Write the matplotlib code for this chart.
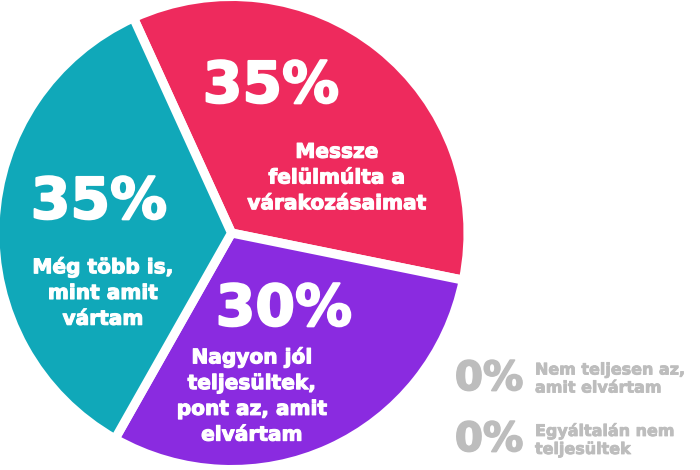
import matplotlib
matplotlib.use("Agg")
import matplotlib.pyplot as plt
import matplotlib.patheffects as pe

# data
slice_labels = ["Messze\nfelülmúlta a\nvárakozásaimat",
                "Nagyon jól\nteljesültek,\npont az, amit\nelvártam",
                "Még több is,\nmint amit\nvártam"]
slice_values = [35, 30, 35]
slice_colors = ["#EE2A5D", "#8A2BE0", "#10A8B9"]

zero_labels = ["Nem teljesen az,\namit elvártam", "Egyáltalán nem\nteljesültek"]
zero_values = [0, 0]

plt.rcParams["font.family"] = ["DejaVu Sans"]

fig = plt.figure(figsize=(7, 4.7), dpi=100)
W, H = 700, 470

# pie axes in pixel units (center ~ (231.5, 233), radius ~236 px incl. white edge)
R = 236.5
cx, cy = 231.5, 233
ax = fig.add_axes([(cx - R) / W, (H - cy - R) / H, 2 * R / W, 2 * R / H])
ax.pie(slice_values, colors=slice_colors, startangle=114.5, counterclock=False,
       radius=1.0, wedgeprops=dict(edgecolor="white", linewidth=6.5))
ax.set_xlim(-1.0, 1.0)
ax.set_ylim(-1.0, 1.0)
ax.set_aspect("equal")
ax.axis("off")

def px(x, y):
    return x / W, 1 - y / H

def heavy(c, w=1.0):
    return [pe.withStroke(linewidth=w, foreground=c)]

# percentage labels and descriptions (pixel positions)
pct_pos = [(271, 87), (284, 310), (99, 203)]
lab_pos = [(337, 178), (252, 396), (103, 293)]
for v, lab, pp, lp in zip(slice_values, slice_labels, pct_pos, lab_pos):
    fig.text(*px(*pp), f"{v}%", color="white", fontsize=41, fontweight="bold",
             ha="center", va="center", path_effects=heavy("white", 1.5))
    fig.text(*px(*lp), lab, color="white", fontsize=14.5, fontweight="bold",
             ha="center", va="center", linespacing=1.45,
             path_effects=heavy("white", 0.8))

# zero-value legend on the right
grey = "#BDBDBD"
for i, (v, lab) in enumerate(zip(zero_values, zero_labels)):
    y = 379 + i * 61
    fig.text(*px(489, y), f"{v}%", color=grey, fontsize=29, fontweight="bold",
             ha="center", va="center", path_effects=heavy(grey, 1.2))
    fig.text(*px(535, y), lab, color=grey, fontsize=11.5, fontweight="bold",
             ha="left", va="center", linespacing=1.25,
             path_effects=heavy(grey, 0.6))

fig.savefig("out.png", dpi=100)
